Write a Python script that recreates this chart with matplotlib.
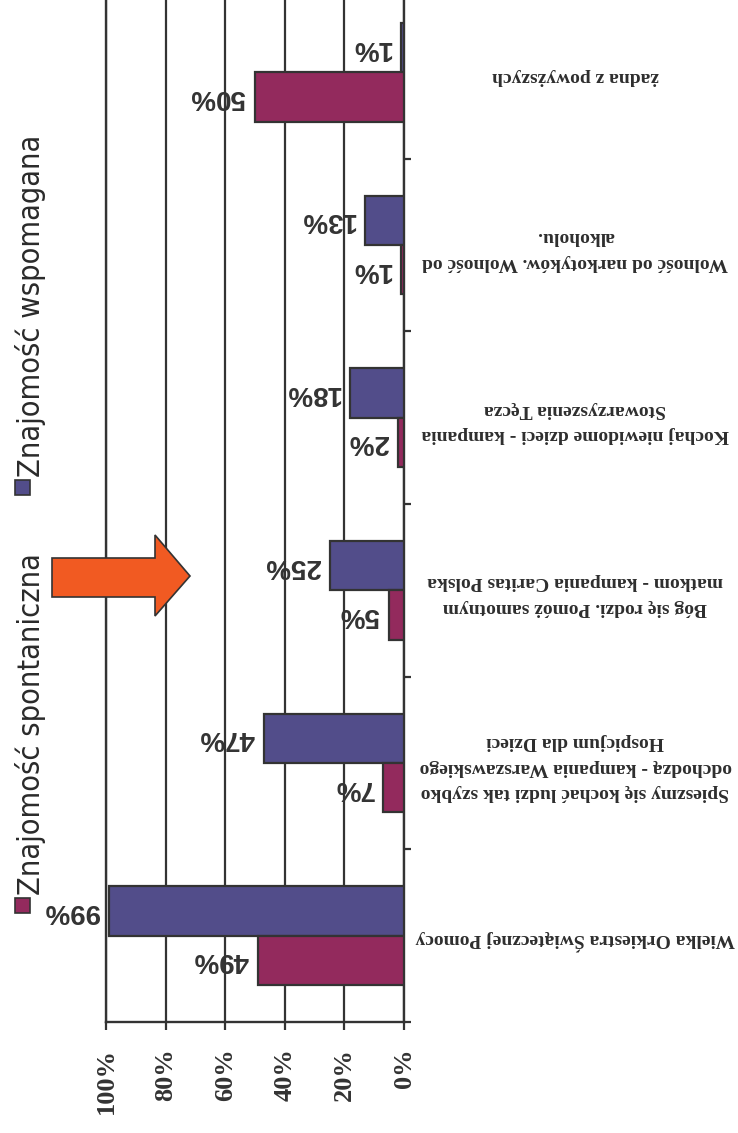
import matplotlib
matplotlib.use("Agg")
import matplotlib.pyplot as plt
from matplotlib.patches import Polygon
import numpy as np

categories = [
    "Wielka Orkiestra Świątecznej Pomocy",
    "Spieszmy się kochać ludzi tak szybko\nodchodzą - kampania Warszawskiego\nHospicjum dla Dzieci",
    "Bóg się rodzi. Pomóż samotnym\nmatkom - kampania Caritas Polska",
    "Kochaj niewidome dzieci - kampania\nStowarzyszenia Tęcza",
    "Wolność od narkotyków. Wolność od\nalkoholu.",
    "żadna z powyższych",
]
spontaniczna = [49, 7, 5, 2, 1, 50]
wspomagana = [99, 47, 25, 18, 13, 1]
series_names = ["Znajomość spontaniczna", "Znajomość wspomagana"]
ticks = [0, 20, 40, 60, 80, 100]
tick_labels = ["0%", "20%", "40%", "60%", "80%", "100%"]

c_red = "#932A5D"
c_blue = "#524D8A"
c_edge = "#333333"

W, H = 738, 1133
fig = plt.figure(figsize=(W / 100, H / 100), dpi=100)
ax = fig.add_axes([106 / W, 111 / H, 298 / W, (1147 - 111) / H])

y = np.arange(len(categories))
bh = 0.285
ax.barh(y + bh / 2, wspomagana, height=bh, color=c_blue, edgecolor=c_edge, linewidth=1.6, zorder=3)
ax.barh(y - bh / 2, spontaniczna, height=bh, color=c_red, edgecolor=c_edge, linewidth=1.6, zorder=3)

ax.set_xlim(100, 0)
ax.set_ylim(-0.5, len(categories) - 0.5)

ax.set_xticks(ticks)
ax.set_xticklabels(tick_labels, rotation=90, family="Liberation Serif",
                   fontweight="bold", fontsize=19, color="#333333")
ax.tick_params(axis="x", direction="out", length=6, width=1.6, color=c_edge, pad=13)

ax.yaxis.tick_right()
ax.set_yticks(np.arange(len(categories) + 1) - 0.5)
ax.set_yticklabels([])
ax.tick_params(axis="y", direction="out", length=5, width=1.6, color=c_edge)

ax.spines["top"].set_visible(False)
for s in ["bottom", "right", "left"]:
    ax.spines[s].set_color(c_edge)
    ax.spines[s].set_linewidth(1.7)

ax.grid(axis="x", color=c_edge, linewidth=1.6, zorder=0)
ax.set_axisbelow(True)

vfont = dict(family="Liberation Sans", fontweight="bold", fontsize=20, color="#333333")
for yi, v in zip(y + bh / 2, wspomagana):
    ax.annotate(f"{v}%", (v, yi), xytext=(-7, 0), textcoords="offset points",
                ha="right", va="center", rotation=180, **vfont)
for yi, v in zip(y - bh / 2, spontaniczna):
    ax.annotate(f"{v}%", (v, yi), xytext=(-7, 0), textcoords="offset points",
                ha="right", va="center", rotation=180, **vfont)

trans = ax.get_yaxis_transform()
for yi, lab in zip(y, categories):
    ax.text(1.575, yi - 0.025, lab, transform=trans, ha="center", va="center",
            rotation=180, family="Liberation Serif", fontweight="bold",
            fontsize=14, color="#2e2e2e", linespacing=1.65, clip_on=False)

# legend (rotated)
lfont = dict(family=["DejaVu Sans"], fontstretch="condensed", fontsize=22,
             color="#2a2a2a", rotation=90, ha="center", va="bottom")
fig.patches.append(plt.Rectangle((15 / W, (H - 913) / H), 15 / W, 15 / H,
                                 transform=fig.transFigure, facecolor=c_red,
                                 edgecolor=c_edge, linewidth=1.2))
fig.text(31 / W, (H - 895) / H, series_names[0], **lfont)
fig.patches.append(plt.Rectangle((15 / W, (H - 495) / H), 15 / W, 15 / H,
                                 transform=fig.transFigure, facecolor=c_blue,
                                 edgecolor=c_edge, linewidth=1.2))
fig.text(31 / W, (H - 477) / H, series_names[1], **lfont)

# orange arrow
pts = [(52, 558), (155, 558), (155, 535), (190, 576), (155, 616), (155, 597), (52, 597)]
pts = [(px / W, (H - py) / H) for px, py in pts]
fig.patches.append(Polygon(pts, closed=True, transform=fig.transFigure,
                           facecolor="#F15A22", edgecolor="#333333", linewidth=1.2))

fig.savefig("out.png", dpi=100)
